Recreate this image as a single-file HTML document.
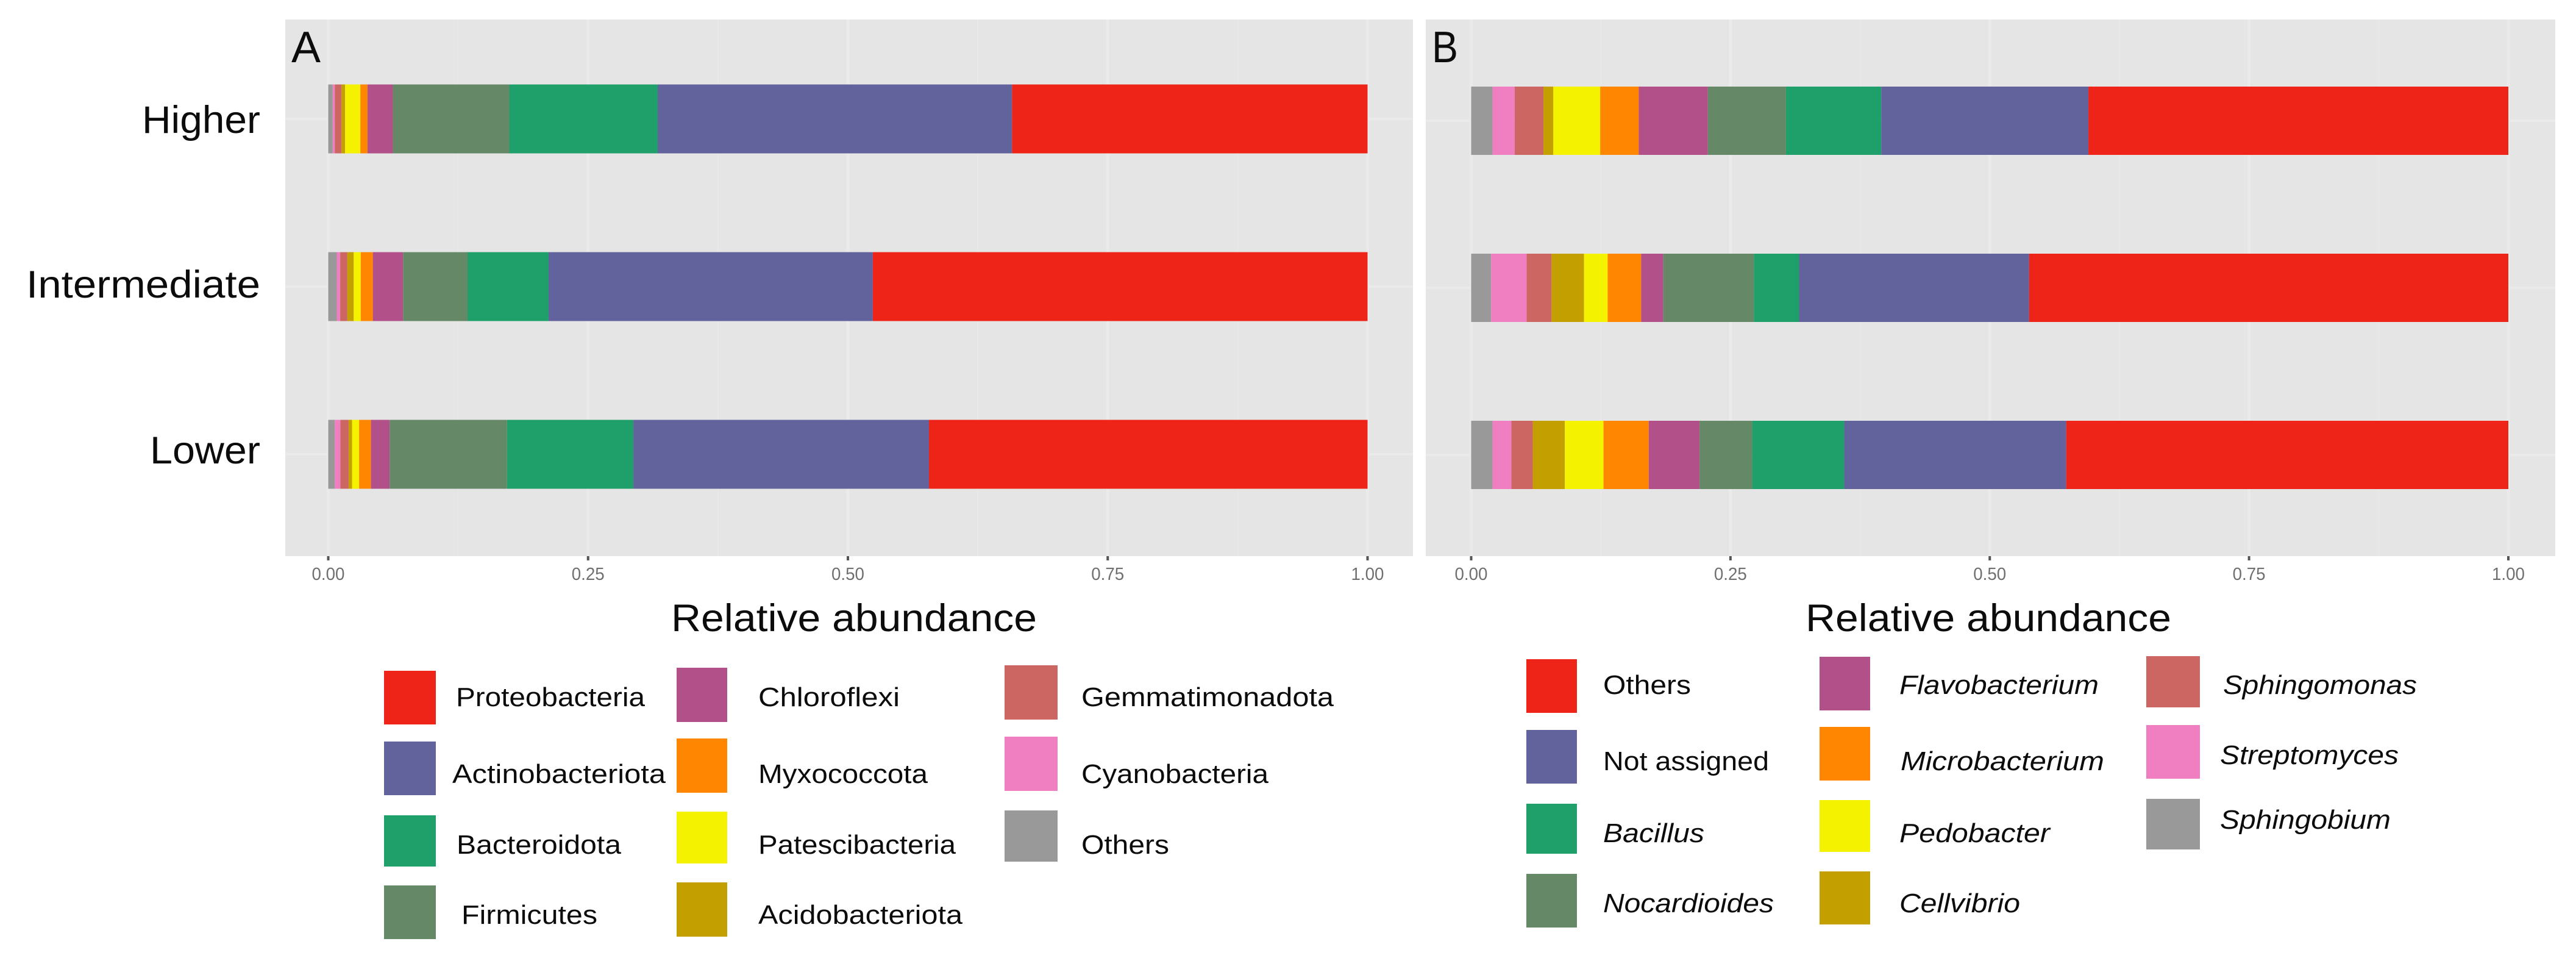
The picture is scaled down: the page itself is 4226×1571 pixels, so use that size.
<!DOCTYPE html>
<html lang="en">
<head>
<meta charset="utf-8">
<title>Relative abundance stacked bars</title>
<style>
html,body{margin:0;padding:0;background:#fff;width:4226px;height:1571px;overflow:hidden}
svg{display:block}
text{font-family:"Liberation Sans",sans-serif;fill:#0c0c0c}
.cat{font-size:63px}
.title{font-size:63px}
.panel{font-size:72px}
.tick{font-size:29px;fill:#6f6f6f}
.leg{font-size:44px}
.it{font-style:italic}
</style>
</head>
<body>
<svg id="chart" xmlns="http://www.w3.org/2000/svg" width="4226" height="1571" viewBox="0 0 4226 1571">
  <g id="panel-a"></g>
  <g id="panel-b"></g>

  <g>
    <g><rect x="630" y="1100" width="85" height="88" fill="#EE2419"/><text class="leg" x="748" y="1158" textLength="310" lengthAdjust="spacingAndGlyphs">Proteobacteria</text></g>
    <g><rect x="630" y="1216" width="85" height="88" fill="#62629C"/><text class="leg" x="742" y="1284" textLength="350" lengthAdjust="spacingAndGlyphs">Actinobacteriota</text></g>
    <g><rect x="630" y="1337" width="85" height="84" fill="#1F9F69"/><text class="leg" x="749" y="1400" textLength="270" lengthAdjust="spacingAndGlyphs">Bacteroidota</text></g>
    <g><rect x="630" y="1452" width="85" height="88" fill="#658866"/><text class="leg" x="757" y="1515" textLength="223" lengthAdjust="spacingAndGlyphs">Firmicutes</text></g>
    <g><rect x="1110" y="1095" width="83" height="89" fill="#B25089"/><text class="leg" x="1244" y="1158" textLength="232" lengthAdjust="spacingAndGlyphs">Chloroflexi</text></g>
    <g><rect x="1110" y="1211" width="83" height="89" fill="#FF8600"/><text class="leg" x="1244" y="1284" textLength="278" lengthAdjust="spacingAndGlyphs">Myxococcota</text></g>
    <g><rect x="1110" y="1331" width="83" height="85" fill="#F5F200"/><text class="leg" x="1244" y="1400" textLength="324" lengthAdjust="spacingAndGlyphs">Patescibacteria</text></g>
    <g><rect x="1110" y="1447" width="83" height="89" fill="#C49F00"/><text class="leg" x="1244" y="1515" textLength="335" lengthAdjust="spacingAndGlyphs">Acidobacteriota</text></g>
    <g><rect x="1648" y="1091" width="87" height="89" fill="#CB6663"/><text class="leg" x="1774" y="1158" textLength="414" lengthAdjust="spacingAndGlyphs">Gemmatimonadota</text></g>
    <g><rect x="1648" y="1208" width="87" height="89" fill="#EF7FC0"/><text class="leg" x="1774" y="1284" textLength="307" lengthAdjust="spacingAndGlyphs">Cyanobacteria</text></g>
    <g><rect x="1648" y="1329" width="87" height="84" fill="#999999"/><text class="leg" x="1774" y="1400" textLength="144" lengthAdjust="spacingAndGlyphs">Others</text></g>
  </g>

  <g>
    <g><rect x="2504" y="1081" width="83" height="88" fill="#EE2419"/><text class="leg" x="2630" y="1138" textLength="144" lengthAdjust="spacingAndGlyphs">Others</text></g>
    <g><rect x="2504" y="1197" width="83" height="88" fill="#62629C"/><text class="leg" x="2630" y="1263" textLength="272" lengthAdjust="spacingAndGlyphs">Not assigned</text></g>
    <g><rect x="2504" y="1318" width="83" height="82" fill="#1F9F69"/><text class="leg it" x="2630" y="1381" textLength="166" lengthAdjust="spacingAndGlyphs">Bacillus</text></g>
    <g><rect x="2504" y="1433" width="83" height="88" fill="#658866"/><text class="leg it" x="2630" y="1496" textLength="280" lengthAdjust="spacingAndGlyphs">Nocardioides</text></g>
    <g><rect x="2985" y="1077" width="83" height="88" fill="#B25089"/><text class="leg it" x="3116" y="1138" textLength="327" lengthAdjust="spacingAndGlyphs">Flavobacterium</text></g>
    <g><rect x="2985" y="1192" width="83" height="88" fill="#FF8600"/><text class="leg it" x="3118" y="1263" textLength="334" lengthAdjust="spacingAndGlyphs">Microbacterium</text></g>
    <g><rect x="2985" y="1312" width="83" height="85" fill="#F5F200"/><text class="leg it" x="3116" y="1381" textLength="247" lengthAdjust="spacingAndGlyphs">Pedobacter</text></g>
    <g><rect x="2985" y="1429" width="83" height="87" fill="#C49F00"/><text class="leg it" x="3116" y="1496" textLength="198" lengthAdjust="spacingAndGlyphs">Cellvibrio</text></g>
    <g><rect x="3521" y="1076" width="88" height="84" fill="#CB6663"/><text class="leg it" x="3647" y="1138" textLength="318" lengthAdjust="spacingAndGlyphs">Sphingomonas</text></g>
    <g><rect x="3521" y="1189" width="88" height="88" fill="#EF7FC0"/><text class="leg it" x="3642" y="1253" textLength="293" lengthAdjust="spacingAndGlyphs">Streptomyces</text></g>
    <g><rect x="3521" y="1310" width="88" height="83" fill="#999999"/><text class="leg it" x="3642" y="1359" textLength="280" lengthAdjust="spacingAndGlyphs">Sphingobium</text></g>
  </g>
</svg>
<script>
// Categories and tick labels
const categories = ['Higher', 'Intermediate', 'Lower'];
const tickValues = [0, 0.25, 0.5, 0.75, 1];
const tickLabels = ['0.00', '0.25', '0.50', '0.75', '1.00'];
const minorTickValues = [0.125, 0.375, 0.625, 0.875];

// Stack order, left to right
const phylaNames = ['Others', 'Cyanobacteria', 'Gemmatimonadota', 'Acidobacteriota', 'Patescibacteria', 'Myxococcota', 'Chloroflexi', 'Firmicutes', 'Bacteroidota', 'Actinobacteriota', 'Proteobacteria'];
const generaNames = ['Sphingobium', 'Streptomyces', 'Sphingomonas', 'Cellvibrio', 'Pedobacter', 'Microbacterium', 'Flavobacterium', 'Nocardioides', 'Bacillus', 'Not assigned', 'Others'];
const stackColors = ['#999999', '#EF7FC0', '#CB6663', '#C49F00', '#F5F200', '#FF8600', '#B25089', '#658866', '#1F9F69', '#62629C', '#EE2419'];

// Panel A: relative abundance per phylum
const phylaHigher = [0.0043, 0.002, 0.0064, 0.0035, 0.0147, 0.0069, 0.0244, 0.112, 0.1428, 0.341, 0.342];
const phylaIntermediate = [0.0082, 0.0033, 0.0069, 0.0061, 0.0068, 0.0116, 0.0291, 0.062, 0.078, 0.312, 0.476];
const phylaLower = [0.0063, 0.0054, 0.0079, 0.0033, 0.0068, 0.0114, 0.018, 0.1129, 0.1216, 0.2844, 0.422];

// Panel B: relative abundance per genus
const generaHigher = [0.0206, 0.0214, 0.0277, 0.0095, 0.0452, 0.0372, 0.0666, 0.0753, 0.0919, 0.1997, 0.4049];
const generaIntermediate = [0.0192, 0.0343, 0.024, 0.0313, 0.0228, 0.0323, 0.0214, 0.0873, 0.0436, 0.2218, 0.462];
const generaLower = [0.0206, 0.0182, 0.0206, 0.0309, 0.0373, 0.0436, 0.0491, 0.0507, 0.0887, 0.214, 0.4263];

const NS = 'http://www.w3.org/2000/svg';
const PANEL_TOP = 32;
const PANEL_BOTTOM = 912;

function make(parent, tag, attrs, text) {
  const el = document.createElementNS(NS, tag);
  for (const k in attrs) el.setAttribute(k, attrs[k]);
  if (text !== undefined) el.textContent = text;
  parent.appendChild(el);
  return el;
}

function slug(s) {
  return s.toLowerCase().replace(/[^a-z0-9]+/g, '-');
}

function drawPanel(cfg) {
  const root = document.getElementById(cfg.id);
  const xScale = v => cfg.x0 + v * (cfg.x1 - cfg.x0);
  const yBand = i => cfg.yFirst + i * cfg.yStep;

  const bg = make(root, 'rect', {x: cfg.left, y: PANEL_TOP, width: cfg.right - cfg.left, height: PANEL_BOTTOM - PANEL_TOP, fill: '#E5E5E5'});
  
  

  minorTickValues.forEach(v => {
    const g = make(root, 'line', {x1: xScale(v), x2: xScale(v), y1: PANEL_TOP, y2: PANEL_BOTTOM, stroke: '#E8E8E8', 'stroke-width': 2});
    
    
  });

  tickValues.forEach((v, i) => {
    const g = make(root, 'line', {x1: xScale(v), x2: xScale(v), y1: PANEL_TOP, y2: PANEL_BOTTOM, stroke: '#EAEAEA', 'stroke-width': 5});
    
    
    const t = make(root, 'line', {x1: xScale(v), x2: xScale(v), y1: PANEL_BOTTOM, y2: PANEL_BOTTOM + 7, stroke: '#555', 'stroke-width': 4});
    
    
    const lab = make(root, 'text', {class: 'tick', x: xScale(v) - 27, y: 951, textLength: 54, lengthAdjust: 'spacingAndGlyphs'}, tickLabels[i]);
    
    
  });

  categories.forEach((c, i) => {
    const g = make(root, 'line', {x1: cfg.left, x2: cfg.right, y1: yBand(i), y2: yBand(i), stroke: '#EAEAEA', 'stroke-width': 4});
    
    

    const values = cfg.series[i];
    const group = make(root, 'g', {});
    
    
    let cum = 0;
    values.forEach((val, s) => {
      const seg = make(group, 'rect', {
        x: xScale(cum),
        y: yBand(i) - cfg.barH / 2,
        width: xScale(cum + val) - xScale(cum),
        height: cfg.barH,
        fill: stackColors[s]
      });
      
      
      cum += val;
    });

    if (cfg.showCats) {
      const lab = make(root, 'text', {class: 'cat', x: 427 - cfg.catWidth[i], y: yBand(i) + cfg.catOffset[i], textLength: cfg.catWidth[i], lengthAdjust: 'spacingAndGlyphs'}, c);
      
      
    }
  });

  const letter = make(root, 'text', {class: 'panel', x: cfg.letterX, y: 102, textLength: cfg.letterW, lengthAdjust: 'spacingAndGlyphs'}, cfg.letter);
  
  

  const title = make(root, 'text', {class: 'title', x: cfg.titleX, y: 1035, textLength: 600, lengthAdjust: 'spacingAndGlyphs'}, 'Relative abundance');
  
  
}

drawPanel({
  id: 'panel-a', left: 468, right: 2318, x0: 538.5, x1: 2243.5,
  yFirst: 195, yStep: 275, barH: 113,
  series: [phylaHigher, phylaIntermediate, phylaLower], names: phylaNames,
  showCats: true, catOffset: [23, 18, 15], catWidth: [194, 384, 181],
  letter: 'A', letterX: 478, letterW: 48, titleX: 1101
});

drawPanel({
  id: 'panel-b', left: 2339, right: 4192, x0: 2413.5, x1: 4115,
  yFirst: 198, yStep: 274, barH: 112,
  series: [generaHigher, generaIntermediate, generaLower], names: generaNames,
  showCats: false, catOffset: [0, 0, 0], catWidth: [0, 0, 0],
  letter: 'B', letterX: 2349, letterW: 43, titleX: 2962
});
</script>
</body>
</html>
